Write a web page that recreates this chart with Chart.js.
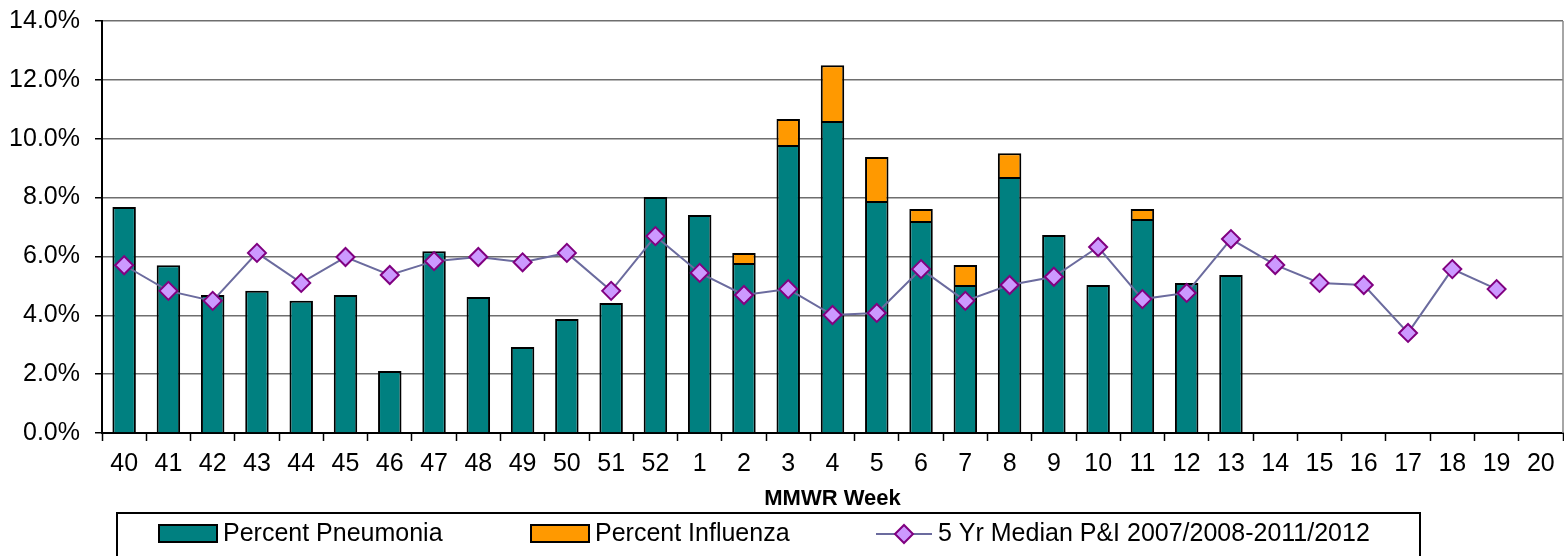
<!DOCTYPE html>
<html>
<head>
<meta charset="utf-8">
<script src="https://cdn.jsdelivr.net/npm/chart.js@4/dist/chart.umd.min.js"></script>
<style>
html,body{margin:0;padding:0;background:#fff;}
#wrap{width:1564px;height:556px;position:relative;}
</style>
</head>
<body>
<div id="wrap"><canvas id="c" width="1564" height="556"></canvas></div>
<script>
const weeks = ['40','41','42','43','44','45','46','47','48','49','50','51','52',
  '1','2','3','4','5','6','7','8','9','10','11','12','13','14','15','16','17','18','19','20'];
const pneumonia = [7.68,5.70,4.69,4.83,4.49,4.69,2.11,6.18,4.62,2.92,3.87,4.42,8.02,
  7.41,5.78,9.79,10.60,7.88,7.20,5.03,8.70,6.73,5.03,7.27,5.10,5.37,
  null,null,null,null,null,null,null];
const influenza = [null,null,null,null,null,null,null,null,null,null,null,null,null,
  null,0.34,0.88,1.90,1.50,0.41,0.68,0.81,null,null,0.34,null,null,
  null,null,null,null,null,null,null];
const median = [5.70,4.83,4.49,6.12,5.10,5.98,5.37,5.84,5.98,5.80,6.12,4.83,6.69,
  5.44,4.69,4.89,4.01,4.08,5.57,4.49,5.03,5.31,6.32,4.55,4.76,6.59,
  5.71,5.10,5.03,3.40,5.57,4.89,null];
const seriesNames = ['Percent Pneumonia','Percent Influenza','5 Yr Median P&I 2007/2008-2011/2012'];
const yMin = 0, yMax = 14, yStep = 2;
const xTitle = 'MMWR Week';

const FONT = '"Liberation Sans", Arial, sans-serif';
Chart.defaults.font.family = FONT;
Chart.defaults.color = '#000';

const COL_PN = '#008080', COL_FLU = '#FF9900', COL_LINE = '#6B6B9E', COL_PT = '#CC99FF', COL_PTB = '#800080';

const legendPlugin = {
  id: 'customLegend',
  afterDraw(chart) {
    const ctx = chart.ctx;
    const ca = chart.chartArea;
    ctx.save();
    ctx.strokeStyle = '#888';
    ctx.lineWidth = 1.5;
    ctx.beginPath();
    ctx.moveTo(ca.right, ca.top);
    ctx.lineTo(ca.right, ca.bottom);
    ctx.stroke();
    const bx = 117, by = 513, bw = 1303, bh = 60;
    ctx.strokeStyle = '#000';
    ctx.lineWidth = 2;
    ctx.strokeRect(bx, by, bw, bh);
    const cy = 534;
    ctx.font = '25px ' + FONT;
    ctx.textBaseline = 'middle';
    ctx.fillStyle = COL_PN;
    ctx.fillRect(159, cy - 9, 58, 17);
    ctx.strokeRect(159, cy - 9, 58, 17);
    ctx.fillStyle = '#000';
    ctx.fillText(seriesNames[0], 223, cy);
    ctx.fillStyle = COL_FLU;
    ctx.fillRect(531, cy - 9, 58, 17);
    ctx.strokeRect(531, cy - 9, 58, 17);
    ctx.fillStyle = '#000';
    ctx.fillText(seriesNames[1], 595, cy);
    ctx.strokeStyle = COL_LINE;
    ctx.lineWidth = 2;
    ctx.beginPath();
    ctx.moveTo(876, cy); ctx.lineTo(932, cy);
    ctx.stroke();
    ctx.fillStyle = COL_PT;
    ctx.strokeStyle = COL_PTB;
    ctx.lineWidth = 2;
    Chart.helpers.drawPoint(ctx, {pointStyle: 'rectRot', radius: 9, borderWidth: 2}, 904, cy);
    ctx.fillStyle = '#000';
    ctx.fillText(seriesNames[2], 938, cy);
    ctx.restore();
  }
};

new Chart(document.getElementById('c'), {
  type: 'bar',
  data: {
    labels: weeks,
    datasets: [
      {
        type: 'line', label: seriesNames[2], data: median, order: 0, stack: 'median',
        borderColor: COL_LINE, borderWidth: 2, backgroundColor: COL_PT,
        pointStyle: 'rectRot', pointRadius: 9, pointBackgroundColor: COL_PT,
        pointBorderColor: COL_PTB, pointBorderWidth: 2, tension: 0, spanGaps: false, fill: false
      },
      {
        label: seriesNames[0], data: pneumonia, order: 1, stack: 'pi',
        backgroundColor: COL_PN, borderColor: '#000', borderWidth: 2,
        barPercentage: 0.53, categoryPercentage: 1
      },
      {
        label: seriesNames[1], data: influenza, order: 2, stack: 'pi',
        backgroundColor: COL_FLU, borderColor: '#000', borderWidth: 2,
        barPercentage: 0.53, categoryPercentage: 1
      }
    ]
  },
  options: {
    responsive: false,
    animation: false,
    layout: {autoPadding: false, padding: {top: 21, right: 1, left: 0, bottom: 0}},
    plugins: {legend: {display: false}, tooltip: {enabled: false}},
    scales: {
      x: {
        stacked: true,
        offset: true,
        grid: {offset: true, drawOnChartArea: false, drawTicks: true, tickLength: 8, tickColor: '#000', tickWidth: 1.5},
        border: {color: '#000', width: 2},
        ticks: {font: {size: 25}, color: '#000', maxRotation: 0, autoSkip: false, padding: 8},
        title: {display: true, text: xTitle, font: {size: 22, weight: 'bold'}, color: '#000', padding: {top: 0, bottom: 44}},
        afterFit(scale) { scale.height = 123; scale.paddingLeft = 0; scale.paddingRight = 0; }
      },
      y: {
        stacked: true,
        min: yMin, max: yMax,
        grid: {color: '#6e6e6e', lineWidth: 1.5, tickColor: '#000', tickLength: 7, drawTicks: true},
        border: {color: '#000', width: 2},
        ticks: {stepSize: yStep, font: {size: 25}, color: '#000', padding: 15,
          callback: v => v.toFixed(1) + '%'},
        afterFit(scale) { scale.width = 102; scale.paddingTop = 0; scale.paddingBottom = 0; }
      }
    }
  },
  plugins: [legendPlugin]
});
</script>
</body>
</html>
